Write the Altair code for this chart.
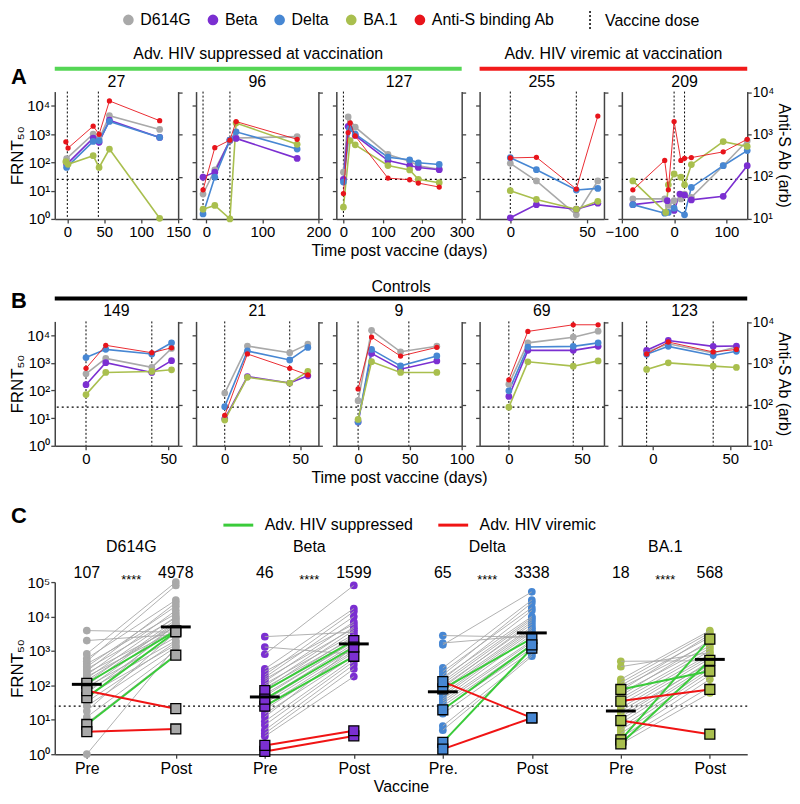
import altair as alt
import pandas as pd

FONT = "Liberation Sans"
AB = "Anti-S binding Ab"
SERIES = ["D614G", "Beta", "Delta", "BA.1", AB]
SERIES_COLORS = ["#a9a9a9", "#7b2fd1", "#4787d3", "#a9bf4e", "#e8141b"]
STATUS = ["Adv. HIV suppressed", "Adv. HIV viremic"]
STATUS_COLORS = ["#3acb3a", "#f01414"]
DOSE_LABEL = "Vaccine dose"
CUTOFF = [25]

# ---------------- Panel A: advanced HIV participants ----------------
A_TITLES = ["27", "96", "127", "255", "209"]
A_GROUPS = ["Adv. HIV suppressed at vaccination", "Adv. HIV viremic at vaccination"]

a27_days = [-1, 35, 43, 57, 125]
a27_d614g = [135, 1000, 665, 4450, 1450]
a27_beta = [85, 720, 510, 3100, 760]
a27_delta = [66, 550, 580, 2800, 760]
a27_ba1_days = [-2, 1, 35, 43, 57, 125]
a27_ba1 = [105, 85, 172, 66, 295, 1.05]
a27_ab_days = [-2, 1, 35, 43, 57, 125]
a27_ab = [676, 480, 1590, 1020, 6300, 2140]
a27_doses = [0, 42]

a96_days = [-6, 15, 42, 53, 162]
a96_d614g = [7.6, 54, 580, 720, 810]
a96_beta = [30, 45, 610, 700, 138]
a96_delta = [1.5, 30, 610, 1200, 295]
a96_ba1 = [2.2, 3.0, 1.0, 2450, 435]
a96_ab = [49, 490, 740, 2040, 775]
a96_doses = [-6, 42]

a127_days = [0, 12, 30, 113, 168, 190, 243]
a127_d614g = [45, 4000, 1750, 190, 110, 76, 57]
a127_beta = [25, 1860, 890, 116, 77, 66, 55]
a127_delta_days = [0, 16, 30, 113, 168, 190, 243]
a127_delta = [20, 1550, 1000, 152, 123, 96, 84]
a127_ba1_days = [0, 17, 30, 113, 168, 190, 243]
a127_ba1 = [2.6, 590, 415, 77, 54, 25, 19]
a127_ab_days = [0, 12, 17, 30, 113, 168, 190, 243]
a127_ab = [40, 1120, 1900, 930, 93, 85, 71, 57]
a127_doses = [0]

a255_days = [0, 17, 43, 57]
a255_d614g = [92, 22, 1.4, 22]
a255_beta = [1.1, 3.2, 2.2, 3.6]
a255_delta = [146, 55, 10.5, 12]
a255_ba1 = [10, 4.9, 2.2, 4.2]
a255_ab = [280, 290, 51, 2750]
a255_doses = [0, 43]

a209_d614g_days = [-79, -18, -11, 0, 13, 20, 33, 94, 140]
a209_d614g = [5.1, 5.1, 3.0, 4.4, 5.1, 7.6, 5.8, 76, 580]
a209_beta_days = [-79, -13, 0, 11, 20, 33, 94, 140]
a209_beta = [3.2, 4.4, 2.0, 7.6, 7.0, 4.7, 6.3, 76]
a209_delta_days = [-79, -18, -11, 0, 20, 33, 94, 140]
a209_delta = [3.2, 1.6, 1.7, 2.4, 1.4, 13, 76, 260]
a209_ba1_days = [-79, -16, -11, 0, 13, 20, 33, 94, 140]
a209_ba1 = [22, 1.7, 16, 39, 30, 16, 83, 540, 365]
a209_ab_days = [-79, -18, -11, 0, 13, 20, 33, 94, 140]
a209_ab = [49, 245, 49, 2040, 245, 275, 285, 390, 775]
a209_doses = [0, 20]

# ---------------- Panel B: controls ----------------
B_TITLES = ["149", "21", "9", "69", "123"]
B_GROUP = "Controls"

b149_days = [0, 12, 40, 52]
b149_d614g = [400, 1450, 690, 3320]
b149_beta = [162, 1010, 450, 1200]
b149_delta = [1550, 3080, 2090, 5330]
b149_ba1 = [71, 450, 490, 560]
b149_ab = [760, 2760, 1820, 2400]
b149_doses = [0, 40]

b21_days = [0, 15, 43, 55]
b21_d614g = [81, 4050, 2330, 4770]
b21_beta = [9.5, 320, 186, 340]
b21_delta = [26, 2690, 1270, 3620]
b21_ba1 = [8.5, 300, 186, 490]
b21_ab = [55, 1700, 760, 525]
b21_doses = [0, 43]

b9_days = [0, 13, 41, 76]
b9_d614g = [43, 15000, 2520, 4020]
b9_beta = [7.2, 2200, 590, 1170]
b9_delta = [7.3, 3070, 780, 1780]
b9_ba1 = [9, 1100, 450, 450]
b9_ab = [240, 4370, 1510, 2460]
b9_doses = [0, 49]

b69_days = [0, 13, 44, 61]
b69_d614g = [170, 5300, 8500, 14000]
b69_beta = [61, 2840, 2840, 3960]
b69_delta = [97, 3730, 3960, 5300]
b69_ba1 = [25, 1090, 760, 1180]
b69_ab = [400, 6000, 8700, 8700]
b69_doses = [0, 44]

b123_days = [-4, 10, 39, 54]
b123_d614g = [2460, 4900, 2290, 3730]
b123_beta = [2840, 6450, 3960, 4050]
b123_delta = [2040, 3960, 1860, 2630]
b123_ba1 = [580, 1000, 760, 680]
b123_ab = [1700, 3320, 1900, 2190]
b123_doses = [-4, 39]

# ---------------- Panel C: pre / post vaccination ----------------
C_VARIANTS = ["D614G", "Beta", "Delta", "BA.1"]
C_TICK_LABELS = ["Pre", "Post", "Pre", "Post", "Pre.", "Post", "Pre", "Post"]
C_PRE_GMT = [107, 46, 65, 18]
C_POST_GMT = [4978, 1599, 3338, 568]
C_STARS = ["****", "****", "****", "****"]

c_d614g_pre = [3900, 2000, 820, 600, 500, 420, 350, 300, 260, 230, 200, 180, 160, 140,
               120, 100, 90, 80, 70, 60, 50, 40, 33, 25, 18, 12, 8, 1]
c_d614g_post = [3500, 3000, 100000, 30000, 80000, 12000, 20000, 9000, 25000, 5000, 15000, 4000,
                10000, 6000, 8000, 7000, 2500, 5500, 2000, 4500, 1500, 6000, 1800, 1300, 3500,
                1000, 800, 1300]
c_beta_pre = [2600, 1300, 800, 300, 250, 200, 170, 150, 130, 110, 95, 85, 75, 65, 55, 48, 40,
              35, 30, 25, 20, 15, 12, 9, 7, 5, 4, 3.3]
c_beta_post = [3500, 800, 80000, 17000, 6000, 14000, 10000, 4500, 7000, 3000, 5000, 2400, 4000,
               2700, 1800, 2000, 1600, 1400, 1200, 1000, 900, 700, 1300, 600, 500, 400, 300, 180]
c_delta_pre = [2800, 1700, 1500, 320, 250, 200, 170, 150, 130, 110, 95, 85, 75, 65, 55, 48, 40,
               35, 30, 25, 20, 15, 6.6, 5]
c_delta_post = [2500, 2800, 52000, 30000, 18000, 25000, 10000, 15000, 9000, 8000, 6000, 7000,
                5000, 4500, 4000, 3500, 3000, 2000, 1800, 1500, 1200, 1000, 800, 700]
c_ba1_pre = [500, 350, 150, 120, 100, 85, 70, 60, 50, 42, 35, 28, 22, 18, 15, 12, 10, 8, 6, 5,
             4, 3, 2.5, 2]
c_ba1_post = [520, 900, 3900, 3400, 2500, 1700, 3000, 1400, 2000, 1200, 1000, 800, 700, 600,
              450, 500, 400, 350, 300, 250, 200, 150, 90, 60]

c_hiv_ids = ["27", "96", "127", "255", "209"]
c_hiv_status = [STATUS[0], STATUS[0], STATUS[0], STATUS[1], STATUS[1]]
c_d614g_hiv_pre = [115, 7.3, 44, 70, 4.5]
c_d614g_hiv_post = [3800, 750, 3600, 21, 5.4]
c_beta_hiv_pre = [70, 25, 40, 1.2, 1.8]
c_beta_hiv_post = [2000, 700, 1300, 3.4, 4.8]
c_delta_hiv_pre = [79, 2.2, 19.5, 128, 1.4]
c_delta_hiv_post = [2300, 1200, 1500, 11.3, 11.3]
c_ba1_hiv_pre = [76, 2.6, 2.0, 9.5, 35]
c_ba1_hiv_post = [260, 2200, 530, 3.8, 76]

# ---------------- layout / style (not data) ----------------
PANEL_W = [124, 123, 126, 125, 126]
GAP = 18
ROW_W = sum(PANEL_W) + GAP * 4
LETTER_X = -44
SUP = "'10' + ['\u2070','\u00b9','\u00b2','\u00b3','\u2074','\u2075'][round(log(datum.value)/LN10)]"

COLOR_SCALE = alt.Scale(domain=SERIES, range=SERIES_COLORS)
COLOR_LEGEND = alt.Legend(title=None, orient="none", legendX=66, legendY=-80, direction="horizontal",
                          symbolType="circle", symbolSize=115, labelFontSize=16, columnPadding=14,
                          labelOffset=4, padding=0)
DASH_SCALE = alt.Scale(domain=[DOSE_LABEL], range=[[2, 2]])
DASH_LEGEND = alt.Legend(title=None, orient="none", legendX=527, legendY=-82, symbolType="M0,-1L0,1",
                         symbolSize=400, symbolDash=[4, 3], symbolStrokeColor="black",
                         symbolStrokeWidth=1.5, labelFontSize=16, labelOffset=4, padding=0)
STATUS_SCALE = alt.Scale(domain=STATUS, range=STATUS_COLORS)
STATUS_LEGEND = alt.Legend(title=None, orient="none", legendX=168, legendY=-74, direction="horizontal",
                           symbolType="stroke", symbolSize=900, symbolStrokeWidth=3,
                           labelFontSize=16, columnPadding=18, labelOffset=10, padding=0)


def series_df(items):
    rows = []
    for name, days, vals in items:
        for d, v in zip(days, vals):
            rows.append({"series": name, "day": d, "val": v})
    return pd.DataFrame(rows)


def decor(label, span, color, text_y, rule_y, letter=None, letter_y=0):
    d = pd.DataFrame({"label": [label]})
    layers = [
        alt.Chart(d).mark_rule(color=color, strokeWidth=4).encode(
            x=alt.value(0), x2=alt.value(span), y=alt.value(rule_y)),
        alt.Chart(d).mark_text(fontSize=16).encode(
            x=alt.value(span / 2), y=alt.value(text_y), text="label:N"),
    ]
    if letter:
        layers.append(alt.Chart(d).mark_text(fontSize=22, fontWeight="bold", align="left").encode(
            x=alt.value(LETTER_X), y=alt.value(letter_y), text=alt.value(letter)))
    return layers


def make_panel(title, width, height, xdom, xticks, doses, items, first, last, xtitle, extra):
    df = series_df(items)
    var_df = df[df.series != AB]
    ab_df = df[df.series == AB]
    xscale = alt.Scale(domain=xdom, nice=False, zero=False)
    xaxis = alt.Axis(values=xticks, title="Time post vaccine (days)" if xtitle else None,
                     labelFontSize=15, titleFontSize=16, labelFlush=False, labelPadding=2,
                     titlePadding=3, tickSize=4, labelOverlap=False)
    lscale = alt.Scale(type="log", domain=[1, 31623], nice=False)
    laxis = alt.Axis(values=[1, 10, 100, 1000, 10000], labels=first, labelExpr=SUP,
                     title="FRNT\u2085\u2080" if first else None, labelFontSize=15,
                     titleFontSize=17, labelPadding=1, titlePadding=0, tickSize=4,
                     labelOverlap=False)
    rscale = alt.Scale(type="log", domain=[10, 10500], nice=False)
    raxis = alt.Axis(orient="right", values=[10, 100, 1000, 10000], labels=last, labelExpr=SUP,
                     title="Anti-S Ab (arb)" if last else None, labelFontSize=14,
                     titleFontSize=16, labelPadding=1, titlePadding=2, tickSize=4,
                     labelOverlap=False)

    def X(f):
        return alt.X(f, scale=xscale, axis=xaxis)

    dose_df = pd.DataFrame({"dose": doses, "kind": [DOSE_LABEL] * len(doses)})
    vlines = alt.Chart(dose_df).mark_rule(color="black", strokeWidth=1).encode(
        x=X("dose:Q"),
        strokeDash=alt.StrokeDash("kind:N", scale=DASH_SCALE, legend=DASH_LEGEND))
    hline = alt.Chart(pd.DataFrame({"cut": CUTOFF})).mark_rule(
        color="black", strokeWidth=1.2, strokeDash=[2, 3]).encode(
        y=alt.Y("cut:Q", scale=lscale, axis=laxis))
    lines = alt.Chart(var_df).mark_line(strokeWidth=1.6).encode(
        x=X("day:Q"), y=alt.Y("val:Q", scale=lscale, axis=laxis),
        stroke=alt.Stroke("series:N", scale=COLOR_SCALE, legend=None))
    pts = alt.Chart(var_df).mark_point(filled=True, size=46, opacity=1).encode(
        x=X("day:Q"), y=alt.Y("val:Q", scale=lscale, axis=laxis),
        color=alt.Color("series:N", scale=COLOR_SCALE, legend=COLOR_LEGEND))
    ttl = alt.Chart(pd.DataFrame({"t": [title]})).mark_text(fontSize=16).encode(
        x=alt.value(width / 2), y=alt.value(-10), text="t:N")
    left = alt.layer(vlines, hline, lines, pts, ttl, *extra)
    ab_line = alt.Chart(ab_df).mark_line(strokeWidth=0.9).encode(
        x=X("day:Q"), y=alt.Y("val:Q", scale=rscale, axis=raxis),
        stroke=alt.Stroke("series:N", scale=COLOR_SCALE, legend=None))
    ab_pts = alt.Chart(ab_df).mark_point(filled=True, size=28, opacity=1).encode(
        x=X("day:Q"), y=alt.Y("val:Q", scale=rscale, axis=raxis),
        color=alt.Color("series:N", scale=COLOR_SCALE, legend=COLOR_LEGEND))
    right = alt.layer(ab_line, ab_pts)
    return alt.layer(left, right).resolve_scale(y="independent").properties(
        width=width, height=height)


# ---------------- Row A ----------------
a_items = [
    [("D614G", a27_days, a27_d614g), ("Beta", a27_days, a27_beta), ("Delta", a27_days, a27_delta),
     ("BA.1", a27_ba1_days, a27_ba1), (AB, a27_ab_days, a27_ab)],
    [("D614G", a96_days, a96_d614g), ("Beta", a96_days, a96_beta), ("Delta", a96_days, a96_delta),
     ("BA.1", a96_days, a96_ba1), (AB, a96_days, a96_ab)],
    [("D614G", a127_days, a127_d614g), ("Beta", a127_days, a127_beta),
     ("Delta", a127_delta_days, a127_delta), ("BA.1", a127_ba1_days, a127_ba1),
     (AB, a127_ab_days, a127_ab)],
    [("D614G", a255_days, a255_d614g), ("Beta", a255_days, a255_beta),
     ("Delta", a255_days, a255_delta), ("BA.1", a255_days, a255_ba1), (AB, a255_days, a255_ab)],
    [("D614G", a209_d614g_days, a209_d614g), ("Beta", a209_beta_days, a209_beta),
     ("Delta", a209_delta_days, a209_delta), ("BA.1", a209_ba1_days, a209_ba1),
     (AB, a209_ab_days, a209_ab)],
]
a_xdom = [[-17, 150], [-18.5, 200], [-18, 300], [-20, 61], [-100, 140]]
a_xticks = [[0, 50, 100, 150], [0, 100, 200], [0, 100, 200, 300], [0, 50], [-100, 0, 100]]
a_doses = [a27_doses, a96_doses, a127_doses, a255_doses, a209_doses]

g1w = PANEL_W[0] + PANEL_W[1] + PANEL_W[2] + 2 * GAP
g2w = PANEL_W[3] + PANEL_W[4] + GAP
a_extra = [decor(A_GROUPS[0], g1w, "#55d655", -38, -23, "A", -15), [], [],
           decor(A_GROUPS[1], g2w, "#f21a1a", -38, -23), []]

rowA = alt.hconcat(*[
    make_panel(A_TITLES[i], PANEL_W[i], 128, a_xdom[i], a_xticks[i], a_doses[i], a_items[i],
               i == 0, i == 4, i == 2, a_extra[i]) for i in range(5)
], spacing=GAP, bounds="flush")


# ---------------- Row B ----------------
def simple_items(days, d, b, de, ba, ab):
    return [("D614G", days, d), ("Beta", days, b), ("Delta", days, de), ("BA.1", days, ba), (AB, days, ab)]


b_items = [
    simple_items(b149_days, b149_d614g, b149_beta, b149_delta, b149_ba1, b149_ab),
    simple_items(b21_days, b21_d614g, b21_beta, b21_delta, b21_ba1, b21_ab),
    simple_items(b9_days, b9_d614g, b9_beta, b9_delta, b9_ba1, b9_ab),
    simple_items(b69_days, b69_d614g, b69_beta, b69_delta, b69_ba1, b69_ab),
    simple_items(b123_days, b123_d614g, b123_beta, b123_delta, b123_ba1, b123_ab),
]
b_xdom = [[-19, 56], [-19, 62], [-21, 100], [-20, 65], [-20, 61]]
b_xticks = [[0, 50], [0, 50], [0, 50, 100], [0, 50], [0, 50]]
b_doses = [b149_doses, b21_doses, b9_doses, b69_doses, b123_doses]
b_extra = [decor(B_GROUP, ROW_W, "black", -35, -23, "B", -20), [], [], [], []]

rowB = alt.hconcat(*[
    make_panel(B_TITLES[i], PANEL_W[i], 125, b_xdom[i], b_xticks[i], b_doses[i], b_items[i],
               i == 0, i == 4, i == 2, b_extra[i]) for i in range(5)
], spacing=GAP, bounds="flush")

# ---------------- Row C ----------------
grey_sets = [(c_d614g_pre, c_d614g_post), (c_beta_pre, c_beta_post),
             (c_delta_pre, c_delta_post), (c_ba1_pre, c_ba1_post)]
hiv_sets = [(c_d614g_hiv_pre, c_d614g_hiv_post), (c_beta_hiv_pre, c_beta_hiv_post),
            (c_delta_hiv_pre, c_delta_hiv_post), (c_ba1_hiv_pre, c_ba1_hiv_post)]
rows = []
for g, var in enumerate(C_VARIANTS):
    pre, post = grey_sets[g]
    for i in range(len(pre)):
        rows.append({"pid": f"{var}-g{i}", "variant": var, "pos": 2 * g, "val": pre[i], "kind": "grey"})
        rows.append({"pid": f"{var}-g{i}", "variant": var, "pos": 2 * g + 1, "val": post[i], "kind": "grey"})
    hpre, hpost = hiv_sets[g]
    for i, pid in enumerate(c_hiv_ids):
        rows.append({"pid": f"{var}-{pid}", "variant": var, "pos": 2 * g, "val": hpre[i],
                     "kind": "hiv", "status": c_hiv_status[i]})
        rows.append({"pid": f"{var}-{pid}", "variant": var, "pos": 2 * g + 1, "val": hpost[i],
                     "kind": "hiv", "status": c_hiv_status[i]})
cdf = pd.DataFrame(rows)
grey_df = cdf[cdf.kind == "grey"]
hiv_df = cdf[cdf.kind == "hiv"]

gmt_rows = []
for g, var in enumerate(C_VARIANTS):
    gmt_rows.append({"pos": 2 * g, "gmt": C_PRE_GMT[g], "lab": str(C_PRE_GMT[g])})
    gmt_rows.append({"pos": 2 * g + 1, "gmt": C_POST_GMT[g], "lab": str(C_POST_GMT[g])})
gmt_df = pd.DataFrame(gmt_rows)
grp_df = pd.DataFrame({"name": C_VARIANTS, "stars": C_STARS,
                       "pos": [2 * g + 0.5 for g in range(len(C_VARIANTS))]})

cx_scale = alt.Scale(domain=[-0.36, 7.42], nice=False, zero=False)
cx_axis = alt.Axis(values=list(range(8)), labelExpr="%s[datum.value]" % str(C_TICK_LABELS),
                   title="Vaccine", labelFontSize=16, titleFontSize=16, labelFlush=False,
                   labelPadding=2, titlePadding=2, tickSize=4, labelOverlap=False)
cy_scale = alt.Scale(type="log", domain=[1, 100000], nice=False)
cy_axis = alt.Axis(values=[1, 10, 100, 1000, 10000, 100000], labelExpr=SUP, title="FRNT\u2085\u2080",
                   labelFontSize=15, titleFontSize=17, labelPadding=1, titlePadding=0, tickSize=4,
                   labelOverlap=False)
CX = alt.X("pos:Q", scale=cx_scale, axis=cx_axis)
CY = alt.Y("val:Q", scale=cy_scale, axis=cy_axis)

c_cut = alt.Chart(pd.DataFrame({"val": CUTOFF})).mark_rule(
    color="black", strokeWidth=1.3, strokeDash=[2, 3]).encode(y=CY)
c_dots = alt.Chart(grey_df).mark_point(filled=True, size=60, opacity=1).encode(
    x=CX, y=CY, color=alt.Color("variant:N", scale=COLOR_SCALE, legend=COLOR_LEGEND))
c_glines = alt.Chart(grey_df).mark_line(color="#a8a8a8", strokeWidth=0.9).encode(
    x=CX, y=CY, detail="pid:N")
c_hlines = alt.Chart(hiv_df).mark_line(strokeWidth=2).encode(
    x=CX, y=CY, detail="pid:N",
    stroke=alt.Stroke("status:N", scale=STATUS_SCALE, legend=STATUS_LEGEND))
c_squares = alt.Chart(hiv_df).mark_point(shape="square", filled=True, size=100, opacity=1,
                                         stroke="black", strokeWidth=1.3).encode(
    x=CX, y=CY, color=alt.Color("variant:N", scale=COLOR_SCALE, legend=COLOR_LEGEND))
c_gmt = alt.Chart(gmt_df).mark_tick(orient="horizontal", size=30, thickness=3, color="black",
                                    opacity=1).encode(
    x=CX, y=alt.Y("gmt:Q", scale=cy_scale, axis=cy_axis))
c_nums = alt.Chart(gmt_df).mark_text(fontSize=16, baseline="bottom").encode(
    x=CX, y=alt.value(-1), text="lab:N")
c_names = alt.Chart(grp_df).mark_text(fontSize=16).encode(
    x=CX, y=alt.value(-35), text="name:N")
c_stars = alt.Chart(grp_df).mark_text(fontSize=13, baseline="middle").encode(
    x=CX, y=alt.value(-2), text="stars:N")
c_letter = alt.Chart(pd.DataFrame({"t": ["C"]})).mark_text(
    fontSize=22, fontWeight="bold", align="left").encode(
    x=alt.value(LETTER_X), y=alt.value(-66), text="t:N")

rowC = alt.layer(c_cut, c_dots, c_glines, c_hlines, c_squares, c_gmt, c_nums, c_names, c_stars,
                 c_letter).properties(width=ROW_W, height=173)

chart = alt.vconcat(rowA, rowB, rowC, spacing=20).resolve_scale(stroke="independent").properties(
    padding=0
).configure(font=FONT).configure_view(strokeWidth=0).configure_axis(
    grid=False, domainColor="#444444", tickColor="#444444", labelColor="black",
    titleColor="black", titleFontWeight="normal", domainWidth=1.5, tickWidth=1.3
).configure_title(font=FONT, color="black").configure_legend(labelFont=FONT, labelColor="black")

chart.save("out.html", embed_options={"renderer": "svg", "actions": False})
